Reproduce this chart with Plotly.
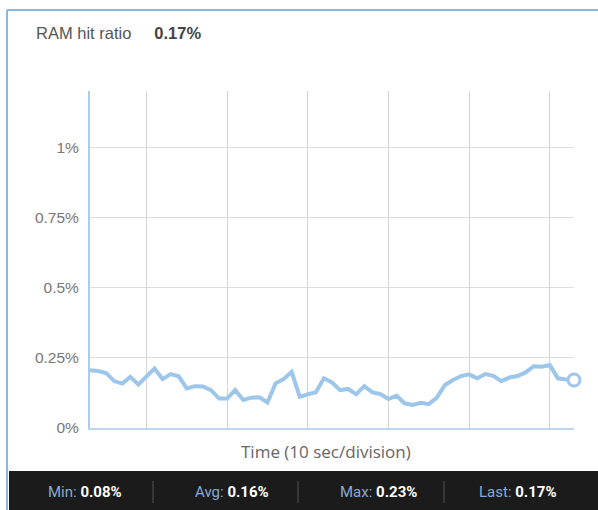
import plotly.graph_objects as go

# data (percent values, one sample per second)
seconds = list(range(61))
hit_ratio = [0.206, 0.203, 0.196, 0.167, 0.158, 0.182, 0.155, 0.185, 0.212, 0.174,
             0.192, 0.184, 0.141, 0.149, 0.148, 0.135, 0.105, 0.105, 0.135, 0.100,
             0.108, 0.109, 0.091, 0.159, 0.174, 0.200, 0.111, 0.120, 0.127, 0.177,
             0.162, 0.135, 0.139, 0.120, 0.149, 0.127, 0.121, 0.103, 0.115, 0.088,
             0.082, 0.090, 0.085, 0.108, 0.153, 0.171, 0.185, 0.191, 0.177, 0.192,
             0.186, 0.167, 0.180, 0.185, 0.198, 0.220, 0.218, 0.224, 0.177, 0.173,
             0.171]
y_tick_vals = [0, 0.25, 0.5, 0.75, 1]
y_tick_text = ["0%", "0.25%", "0.5%", "0.75%", "1%"]
x_grid_vals = [7, 17, 27, 37, 47, 57]
title_text = "RAM hit ratio"
current_value = "0.17%"
x_title = "Time (10 sec/division)"
stat_labels = ["Min:", "Avg:", "Max:", "Last:"]
stat_values = ["0.08%", "0.16%", "0.23%", "0.17%"]

W, H = 598, 510
L, R, T, B = 90, 24, 91, 82
pw, ph = W - L - R, H - T - B


def px(x):
    return (x - L) / pw


def py(y):
    return (H - B - y) / ph


LINE = "#9dc6eb"
fig = go.Figure()
fig.add_trace(go.Scatter(
    x=seconds, y=hit_ratio, mode="lines",
    line=dict(color=LINE, width=4, shape="linear"),
    hoverinfo="skip", cliponaxis=False, showlegend=False))
fig.add_trace(go.Scatter(
    x=[seconds[-1]], y=[hit_ratio[-1]], mode="markers",
    marker=dict(size=12, color="white", line=dict(color=LINE, width=3)),
    cliponaxis=False, showlegend=False, hoverinfo="skip"))

shapes = []
# outer panel border (top and left)
shapes.append(dict(type="line", xref="paper", yref="paper", x0=px(7), x1=px(598),
                   y0=py(10), y1=py(10), line=dict(color="#8ab8e4", width=2)))
shapes.append(dict(type="line", xref="paper", yref="paper", x0=px(7), x1=px(7),
                   y0=py(10), y1=py(510), line=dict(color="#8ab8e4", width=2)))
# dark stats bar
shapes.append(dict(type="rect", xref="paper", yref="paper", x0=px(9), x1=px(598),
                   y0=py(471), y1=py(510), fillcolor="#1b1b1b", line=dict(width=0),
                   layer="above"))
for sx in [153, 298, 444]:
    shapes.append(dict(type="line", xref="paper", yref="paper", x0=px(sx), x1=px(sx),
                       y0=py(481), y1=py(503), line=dict(color="#555555", width=1),
                       layer="above"))

annotations = []
centers = [85, 232, 378, 518]
for cx, lab, val in zip(centers, stat_labels, stat_values):
    annotations.append(dict(
        xref="paper", yref="paper", x=px(cx), y=py(492), xanchor="center", yanchor="middle",
        showarrow=False,
        text=f"<span style='color:#86acd4'>{lab}</span> <b><span style='color:#ffffff'>{val}</span></b>",
        font=dict(family="Liberation Sans Narrow, Arial Narrow, Roboto, sans-serif", size=15)))
annotations.append(dict(
    xref="paper", yref="paper", x=px(326), y=py(451), xanchor="center", yanchor="middle",
    showarrow=False, text=x_title,
    font=dict(family="Open Sans, DejaVu Sans, sans-serif", size=17, color="#666666")))

fig.update_layout(
    width=W, height=H,
    margin=dict(l=L, r=R, t=T, b=B),
    paper_bgcolor="white", plot_bgcolor="white",
    title=dict(
        text=f"<span style='color:#555555'>{title_text}</span>&nbsp;&nbsp;&nbsp;&nbsp;&nbsp;<b><span style='color:#444444'>{current_value}</span></b>",
        x=36 / W, xanchor="left", xref="container",
        y=1 - 33 / H, yanchor="middle", yref="container",
        font=dict(family="Liberation Sans, Arial, sans-serif", size=16.5)),
    shapes=shapes, annotations=annotations,
    xaxis=dict(
        range=[0, 60], tickvals=x_grid_vals, showticklabels=False, ticks="",
        showgrid=True, gridcolor="#d4d4d4", gridwidth=1,
        showline=True, linecolor="#bcd6ee", linewidth=2, zeroline=False,
        fixedrange=True),
    yaxis=dict(
        range=[0, 1.2], tickvals=y_tick_vals, ticktext=y_tick_text, ticks="",
        showgrid=True, gridcolor="#dedede", gridwidth=1,
        showline=True, linecolor="#a9cbec", linewidth=2, zeroline=False,
        tickfont=dict(family="Liberation Sans, Arial, sans-serif", size=15.5, color="#777777"),
        ticklabelstandoff=6, fixedrange=True),
)

fig.write_html("out.html", config={"displayModeBar": False},
               post_script="document.body.style.margin='0';document.body.style.overflow='hidden';")
